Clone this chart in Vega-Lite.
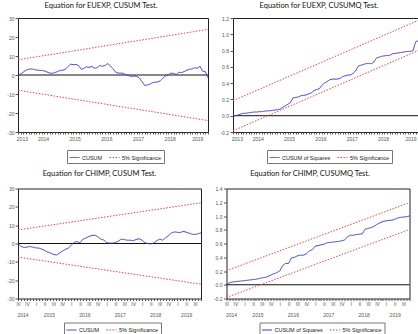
{
  "$schema": "https://vega.github.io/schema/vega-lite/v6.json",
  "background": "white",
  "padding": {"left": 0, "top": 1, "right": 0, "bottom": 0},
  "spacing": 5.5,
  "config": {
    "view": {"stroke": "#222", "strokeWidth": 1},
    "axis": {"grid": false, "labelFont": "Liberation Sans", "labelFontSize": 5, "labelColor": "#555", "tickColor": "#555", "domain": false, "labelFlush": false, "labelOverlap": false},
    "axisX": {"orient": "bottom"},
    "title": {"font": "Lato", "fontSize": 7.5, "fontWeight": "normal", "color": "#111", "frame": "group", "baseline": "bottom"},
    "legend": {"symbolType": "stroke", "symbolSize": 100, "symbolStrokeWidth": 1, "labelFont": "Liberation Sans", "labelFontSize": 5.5, "labelColor": "#222", "strokeColor": "#777", "padding": 2, "columnPadding": 4, "labelOffset": 2, "direction": "horizontal", "orient": "none"},
    "line": {"strokeWidth": 1}
  },
  "resolve": {"scale": {"color": "independent", "strokeDash": "independent"}},
  "datasets": {
    "zero": [{"v": 0}],
    "eu_cusum": [
      {"date": "2013-09-01", "v": 0}, {"date": "2013-10-01", "v": 0.5}, {"date": "2013-11-01", "v": 1.5}, {"date": "2013-12-01", "v": 2.5},
      {"date": "2014-01-01", "v": 3}, {"date": "2014-02-01", "v": 3.2}, {"date": "2014-03-01", "v": 3}, {"date": "2014-04-01", "v": 2.6},
      {"date": "2014-05-01", "v": 2.5}, {"date": "2014-06-01", "v": 2.4}, {"date": "2014-07-01", "v": 2.2}, {"date": "2014-08-01", "v": 1.6},
      {"date": "2014-09-01", "v": 1}, {"date": "2014-10-01", "v": 0.9}, {"date": "2014-11-01", "v": 1.3}, {"date": "2014-12-01", "v": 1.8},
      {"date": "2015-01-01", "v": 2.4}, {"date": "2015-02-01", "v": 2.5}, {"date": "2015-03-01", "v": 3}, {"date": "2015-04-01", "v": 4.5},
      {"date": "2015-05-01", "v": 5.7}, {"date": "2015-06-01", "v": 5.4}, {"date": "2015-07-01", "v": 5.6}, {"date": "2015-08-01", "v": 5},
      {"date": "2015-09-01", "v": 3}, {"date": "2015-10-01", "v": 3.5}, {"date": "2015-11-01", "v": 4.3}, {"date": "2015-12-01", "v": 4},
      {"date": "2016-01-01", "v": 4.5}, {"date": "2016-02-01", "v": 3.6}, {"date": "2016-03-01", "v": 3.8}, {"date": "2016-04-01", "v": 5},
      {"date": "2016-05-01", "v": 4.6}, {"date": "2016-06-01", "v": 5}, {"date": "2016-07-01", "v": 6}, {"date": "2016-08-01", "v": 4.8},
      {"date": "2016-09-01", "v": 3.2}, {"date": "2016-10-01", "v": 1.5}, {"date": "2016-11-01", "v": 1}, {"date": "2016-12-01", "v": 1},
      {"date": "2017-01-01", "v": 0.8}, {"date": "2017-02-01", "v": 0}, {"date": "2017-03-01", "v": -0.3}, {"date": "2017-04-01", "v": -0.8},
      {"date": "2017-05-01", "v": -0.5}, {"date": "2017-06-01", "v": -0.8}, {"date": "2017-07-01", "v": -1.5}, {"date": "2017-08-01", "v": -3.5},
      {"date": "2017-09-01", "v": -5.5}, {"date": "2017-10-01", "v": -5.2}, {"date": "2017-11-01", "v": -4.8}, {"date": "2017-12-01", "v": -4},
      {"date": "2018-01-01", "v": -3.8}, {"date": "2018-02-01", "v": -3.6}, {"date": "2018-03-01", "v": -3}, {"date": "2018-04-01", "v": -1.5},
      {"date": "2018-05-01", "v": -0.5}, {"date": "2018-06-01", "v": 0.2}, {"date": "2018-07-01", "v": 1}, {"date": "2018-08-01", "v": 0.8},
      {"date": "2018-09-01", "v": 0.3}, {"date": "2018-10-01", "v": 1.4}, {"date": "2018-11-01", "v": 1.3}, {"date": "2018-12-01", "v": 1.8},
      {"date": "2019-01-01", "v": 2.6}, {"date": "2019-02-01", "v": 3}, {"date": "2019-03-01", "v": 3.2}, {"date": "2019-04-01", "v": 3.8},
      {"date": "2019-05-01", "v": 3.6}, {"date": "2019-06-01", "v": 4.6}, {"date": "2019-07-01", "v": 2}, {"date": "2019-08-01", "v": 1.8},
      {"date": "2019-09-01", "v": -1.5}
    ],
    "eu_cusum_band": [
      {"date": "2013-09-01", "bound": "upper", "v": 8}, {"date": "2019-09-01", "bound": "upper", "v": 24},
      {"date": "2013-09-01", "bound": "lower", "v": -8}, {"date": "2019-09-01", "bound": "lower", "v": -24}
    ],
    "eu_cusumq": [
      {"date": "2013-09-01", "v": 0}, {"date": "2013-10-01", "v": 0}, {"date": "2013-11-01", "v": 0.01}, {"date": "2013-12-01", "v": 0.02},
      {"date": "2014-01-01", "v": 0.03}, {"date": "2014-02-01", "v": 0.03}, {"date": "2014-03-01", "v": 0.035}, {"date": "2014-04-01", "v": 0.04},
      {"date": "2014-05-01", "v": 0.045}, {"date": "2014-06-01", "v": 0.045}, {"date": "2014-07-01", "v": 0.05}, {"date": "2014-08-01", "v": 0.05},
      {"date": "2014-09-01", "v": 0.055}, {"date": "2014-10-01", "v": 0.06}, {"date": "2014-11-01", "v": 0.06}, {"date": "2014-12-01", "v": 0.065},
      {"date": "2015-01-01", "v": 0.07}, {"date": "2015-02-01", "v": 0.075}, {"date": "2015-03-01", "v": 0.08}, {"date": "2015-04-01", "v": 0.1},
      {"date": "2015-05-01", "v": 0.12}, {"date": "2015-06-01", "v": 0.14}, {"date": "2015-07-01", "v": 0.16}, {"date": "2015-08-01", "v": 0.22},
      {"date": "2015-09-01", "v": 0.225}, {"date": "2015-10-01", "v": 0.23}, {"date": "2015-11-01", "v": 0.245}, {"date": "2015-12-01", "v": 0.25},
      {"date": "2016-01-01", "v": 0.255}, {"date": "2016-02-01", "v": 0.27}, {"date": "2016-03-01", "v": 0.28}, {"date": "2016-04-01", "v": 0.31},
      {"date": "2016-05-01", "v": 0.32}, {"date": "2016-06-01", "v": 0.33}, {"date": "2016-07-01", "v": 0.37}, {"date": "2016-08-01", "v": 0.4},
      {"date": "2016-09-01", "v": 0.42}, {"date": "2016-10-01", "v": 0.44}, {"date": "2016-11-01", "v": 0.45}, {"date": "2016-12-01", "v": 0.45},
      {"date": "2017-01-01", "v": 0.45}, {"date": "2017-02-01", "v": 0.46}, {"date": "2017-03-01", "v": 0.48}, {"date": "2017-04-01", "v": 0.49},
      {"date": "2017-05-01", "v": 0.5}, {"date": "2017-06-01", "v": 0.5}, {"date": "2017-07-01", "v": 0.52}, {"date": "2017-08-01", "v": 0.55},
      {"date": "2017-09-01", "v": 0.61}, {"date": "2017-10-01", "v": 0.62}, {"date": "2017-11-01", "v": 0.63}, {"date": "2017-12-01", "v": 0.64},
      {"date": "2018-01-01", "v": 0.64}, {"date": "2018-02-01", "v": 0.64}, {"date": "2018-03-01", "v": 0.66}, {"date": "2018-04-01", "v": 0.71},
      {"date": "2018-05-01", "v": 0.72}, {"date": "2018-06-01", "v": 0.73}, {"date": "2018-07-01", "v": 0.735}, {"date": "2018-08-01", "v": 0.74},
      {"date": "2018-09-01", "v": 0.74}, {"date": "2018-10-01", "v": 0.76}, {"date": "2018-11-01", "v": 0.765}, {"date": "2018-12-01", "v": 0.77},
      {"date": "2019-01-01", "v": 0.775}, {"date": "2019-02-01", "v": 0.78}, {"date": "2019-03-01", "v": 0.785}, {"date": "2019-04-01", "v": 0.79},
      {"date": "2019-05-01", "v": 0.79}, {"date": "2019-06-01", "v": 0.8}, {"date": "2019-07-01", "v": 0.91}, {"date": "2019-08-01", "v": 0.92},
      {"date": "2019-09-01", "v": 1}
    ],
    "eu_cusumq_band": [
      {"date": "2013-09-01", "bound": "upper", "v": 0.185}, {"date": "2019-09-01", "bound": "upper", "v": 1.185},
      {"date": "2013-09-01", "bound": "lower", "v": -0.185}, {"date": "2019-09-01", "bound": "lower", "v": 0.815}
    ],
    "ch_cusum": [
      {"date": "2014-07-01", "v": 0}, {"date": "2014-08-01", "v": -1.5}, {"date": "2014-09-01", "v": -2.2}, {"date": "2014-10-01", "v": -2},
      {"date": "2014-11-01", "v": -1.6}, {"date": "2014-12-01", "v": -2},
      {"date": "2015-01-01", "v": -2.4}, {"date": "2015-02-01", "v": -2.5}, {"date": "2015-03-01", "v": -3}, {"date": "2015-04-01", "v": -3.8},
      {"date": "2015-05-01", "v": -4.6}, {"date": "2015-06-01", "v": -5.2}, {"date": "2015-07-01", "v": -5.9}, {"date": "2015-08-01", "v": -6.3},
      {"date": "2015-09-01", "v": -5.3}, {"date": "2015-10-01", "v": -4.2}, {"date": "2015-11-01", "v": -3.2}, {"date": "2015-12-01", "v": -2.6},
      {"date": "2016-01-01", "v": -1}, {"date": "2016-02-01", "v": 0.7}, {"date": "2016-03-01", "v": 1}, {"date": "2016-04-01", "v": 0.4},
      {"date": "2016-05-01", "v": 2.4}, {"date": "2016-06-01", "v": 3}, {"date": "2016-07-01", "v": 3.8}, {"date": "2016-08-01", "v": 4.4},
      {"date": "2016-09-01", "v": 4.5}, {"date": "2016-10-01", "v": 3.7}, {"date": "2016-11-01", "v": 2.4}, {"date": "2016-12-01", "v": 1.9},
      {"date": "2017-01-01", "v": 0.5}, {"date": "2017-02-01", "v": 0.2}, {"date": "2017-03-01", "v": 0.2}, {"date": "2017-04-01", "v": 0.5},
      {"date": "2017-05-01", "v": 1.3}, {"date": "2017-06-01", "v": 2.4}, {"date": "2017-07-01", "v": 2.1}, {"date": "2017-08-01", "v": 1.8},
      {"date": "2017-09-01", "v": 1.8}, {"date": "2017-10-01", "v": 1.5}, {"date": "2017-11-01", "v": 2.2}, {"date": "2017-12-01", "v": 2.6},
      {"date": "2018-01-01", "v": 1.8}, {"date": "2018-02-01", "v": 0.4}, {"date": "2018-03-01", "v": 0}, {"date": "2018-04-01", "v": -0.2},
      {"date": "2018-05-01", "v": 0.3}, {"date": "2018-06-01", "v": 1.5}, {"date": "2018-07-01", "v": 2.4}, {"date": "2018-08-01", "v": 1.8},
      {"date": "2018-09-01", "v": 3.2}, {"date": "2018-10-01", "v": 4.3}, {"date": "2018-11-01", "v": 5.8}, {"date": "2018-12-01", "v": 6.3},
      {"date": "2019-01-01", "v": 6.1}, {"date": "2019-02-01", "v": 6}, {"date": "2019-03-01", "v": 6.6}, {"date": "2019-04-01", "v": 6.2},
      {"date": "2019-05-01", "v": 5.6}, {"date": "2019-06-01", "v": 5.1}, {"date": "2019-07-01", "v": 4.9}, {"date": "2019-08-01", "v": 5.3},
      {"date": "2019-09-01", "v": 5.8}
    ],
    "ch_cusum_band": [
      {"date": "2014-07-01", "bound": "upper", "v": 7.4}, {"date": "2019-09-01", "bound": "upper", "v": 22.2},
      {"date": "2014-07-01", "bound": "lower", "v": -7.4}, {"date": "2019-09-01", "bound": "lower", "v": -22.2}
    ],
    "ch_cusumq": [
      {"date": "2014-07-01", "v": 0}, {"date": "2014-08-01", "v": 0.03}, {"date": "2014-09-01", "v": 0.04}, {"date": "2014-10-01", "v": 0.045},
      {"date": "2014-11-01", "v": 0.05}, {"date": "2014-12-01", "v": 0.055},
      {"date": "2015-01-01", "v": 0.06}, {"date": "2015-02-01", "v": 0.065}, {"date": "2015-03-01", "v": 0.07}, {"date": "2015-04-01", "v": 0.075},
      {"date": "2015-05-01", "v": 0.08}, {"date": "2015-06-01", "v": 0.09}, {"date": "2015-07-01", "v": 0.1}, {"date": "2015-08-01", "v": 0.105},
      {"date": "2015-09-01", "v": 0.12}, {"date": "2015-10-01", "v": 0.14}, {"date": "2015-11-01", "v": 0.16}, {"date": "2015-12-01", "v": 0.175},
      {"date": "2016-01-01", "v": 0.2}, {"date": "2016-02-01", "v": 0.28}, {"date": "2016-03-01", "v": 0.31}, {"date": "2016-04-01", "v": 0.31},
      {"date": "2016-05-01", "v": 0.39}, {"date": "2016-06-01", "v": 0.4}, {"date": "2016-07-01", "v": 0.42}, {"date": "2016-08-01", "v": 0.43},
      {"date": "2016-09-01", "v": 0.43}, {"date": "2016-10-01", "v": 0.45}, {"date": "2016-11-01", "v": 0.49}, {"date": "2016-12-01", "v": 0.51},
      {"date": "2017-01-01", "v": 0.56}, {"date": "2017-02-01", "v": 0.57}, {"date": "2017-03-01", "v": 0.58}, {"date": "2017-04-01", "v": 0.59},
      {"date": "2017-05-01", "v": 0.61}, {"date": "2017-06-01", "v": 0.615}, {"date": "2017-07-01", "v": 0.62}, {"date": "2017-08-01", "v": 0.625},
      {"date": "2017-09-01", "v": 0.63}, {"date": "2017-10-01", "v": 0.64}, {"date": "2017-11-01", "v": 0.65}, {"date": "2017-12-01", "v": 0.7},
      {"date": "2018-01-01", "v": 0.72}, {"date": "2018-02-01", "v": 0.72}, {"date": "2018-03-01", "v": 0.73}, {"date": "2018-04-01", "v": 0.735},
      {"date": "2018-05-01", "v": 0.74}, {"date": "2018-06-01", "v": 0.81}, {"date": "2018-07-01", "v": 0.82}, {"date": "2018-08-01", "v": 0.83},
      {"date": "2018-09-01", "v": 0.85}, {"date": "2018-10-01", "v": 0.88}, {"date": "2018-11-01", "v": 0.9}, {"date": "2018-12-01", "v": 0.92},
      {"date": "2019-01-01", "v": 0.93}, {"date": "2019-02-01", "v": 0.935}, {"date": "2019-03-01", "v": 0.94}, {"date": "2019-04-01", "v": 0.95},
      {"date": "2019-05-01", "v": 0.97}, {"date": "2019-06-01", "v": 0.98}, {"date": "2019-07-01", "v": 0.985}, {"date": "2019-08-01", "v": 0.99},
      {"date": "2019-09-01", "v": 1}
    ],
    "ch_cusumq_band": [
      {"date": "2014-07-01", "bound": "upper", "v": 0.205}, {"date": "2019-09-01", "bound": "upper", "v": 1.195},
      {"date": "2014-07-01", "bound": "lower", "v": -0.185}, {"date": "2019-09-01", "bound": "lower", "v": 0.805}
    ]
  },
  "vconcat": [
    {
      "spacing": 25,
      "bounds": "flush",
      "resolve": {"scale": {"color": "independent", "strokeDash": "independent"}},
      "hconcat": [
        {
          "width": 190, "height": 114,
          "title": {"text": "Equation for EUEXP, CUSUM Test.", "dx": -12, "offset": 6.5},
          "encoding": {
            "y": {"field": "v", "type": "quantitative", "title": null,
              "scale": {"domain": [-30, 30], "nice": false, "zero": false},
              "axis": {"values": [-30, -20, -10, 0, 10, 20, 30], "labelExpr": "'' + datum.value", "tickSize": 3, "labelPadding": 1, "minExtent": 10, "maxExtent": 10}}
          },
          "layer": [
            {"data": {"name": "zero"}, "mark": {"type": "rule", "color": "#111", "strokeWidth": 1}, "encoding": {}},
            {
              "data": {"name": "eu_cusum_band"}, "transform": [{"filter": "datum.bound == 'upper'"}], "mark": "line",
              "encoding": {
                "x": {"field": "date", "type": "temporal", "title": null,
                  "scale": {"type": "utc", "domain": [{"year": 2013, "month": 9, "date": 1, "utc": true}, {"year": 2019, "month": 9, "date": 1, "utc": true}]},
                  "axis": {"orient": "bottom", "tickCount": {"interval": "month", "step": 1}, "labels": false, "tickSize": 2}},
                "color": {"datum": "5% Significance", "type": "nominal", "scale": {"domain": ["CUSUM", "5% Significance"], "range": ["#3b3bcf", "#e04848"]}, "legend": {"title": null, "legendX": 49, "legendY": 132}},
                "strokeDash": {"datum": "5% Significance", "type": "nominal", "scale": {"domain": ["CUSUM", "5% Significance"], "range": [[1, 0], [1.5, 1.5]]}, "legend": {"title": null, "legendX": 49, "legendY": 132}}
              }
            },
            {
              "data": {"name": "eu_cusum_band"}, "transform": [{"filter": "datum.bound == 'lower'"}], "mark": "line",
              "encoding": {
                "x": {"field": "date", "type": "temporal", "title": null,
                  "scale": {"type": "utc", "domain": [{"year": 2013, "month": 9, "date": 1, "utc": true}, {"year": 2019, "month": 9, "date": 1, "utc": true}]},
                  "axis": {"orient": "bottom", "values": [{"year": 2013, "month": 10, "date": 16, "utc": true}, {"year": 2014, "month": 6, "date": 16, "utc": true}, {"year": 2015, "month": 6, "date": 16, "utc": true}, {"year": 2016, "month": 6, "date": 16, "utc": true}, {"year": 2017, "month": 6, "date": 16, "utc": true}, {"year": 2018, "month": 6, "date": 16, "utc": true}, {"year": 2019, "month": 5, "date": 1, "utc": true}], "format": "%Y", "ticks": false, "labelPadding": 4}},
                "color": {"datum": "5% Significance", "type": "nominal", "scale": {"domain": ["CUSUM", "5% Significance"], "range": ["#3b3bcf", "#e04848"]}, "legend": {"title": null, "legendX": 49, "legendY": 132}},
                "strokeDash": {"datum": "5% Significance", "type": "nominal", "scale": {"domain": ["CUSUM", "5% Significance"], "range": [[1, 0], [1.5, 1.5]]}, "legend": {"title": null, "legendX": 49, "legendY": 132}}
              }
            },
            {
              "data": {"name": "eu_cusum"}, "mark": "line",
              "encoding": {
                "x": {"field": "date", "type": "temporal", "title": null,
                  "scale": {"type": "utc", "domain": [{"year": 2013, "month": 9, "date": 1, "utc": true}, {"year": 2019, "month": 9, "date": 1, "utc": true}]},
                  "axis": null},
                "color": {"datum": "CUSUM", "type": "nominal", "scale": {"domain": ["CUSUM", "5% Significance"], "range": ["#3b3bcf", "#e04848"]}, "legend": {"title": null, "legendX": 49, "legendY": 132}},
                "strokeDash": {"datum": "CUSUM", "type": "nominal", "scale": {"domain": ["CUSUM", "5% Significance"], "range": [[1, 0], [1.5, 1.5]]}, "legend": {"title": null, "legendX": 49, "legendY": 132}}
              }
            }
          ],
          "resolve": {"axis": {"x": "independent"}}
        },
        {
          "width": 188, "height": 114,
          "title": {"text": "Equation for EUEXP, CUSUMQ Test.", "dx": -8, "offset": 6.5},
          "encoding": {
            "y": {"field": "v", "type": "quantitative", "title": null,
              "scale": {"domain": [-0.2, 1.2], "nice": false, "zero": false},
              "axis": {"values": [-0.2, 0, 0.2, 0.4, 0.6, 0.8, 1.0, 1.2], "labelExpr": "replace(format(datum.value, '.1f'), '\u2212', '-')", "tickSize": 3, "labelPadding": 1.5, "minExtent": 16, "maxExtent": 16}}
          },
          "layer": [
            {"data": {"name": "zero"}, "mark": {"type": "rule", "color": "#111", "strokeWidth": 1}, "encoding": {}},
            {
              "data": {"name": "eu_cusumq_band"}, "transform": [{"filter": "datum.bound == 'upper'"}], "mark": "line",
              "encoding": {
                "x": {"field": "date", "type": "temporal", "title": null,
                  "scale": {"type": "utc", "domain": [{"year": 2013, "month": 9, "date": 1, "utc": true}, {"year": 2019, "month": 9, "date": 1, "utc": true}]},
                  "axis": {"orient": "bottom", "tickCount": {"interval": "month", "step": 1}, "labels": false, "tickSize": 2}},
                "color": {"datum": "5% Significance", "type": "nominal", "scale": {"domain": ["CUSUM of Squares", "5% Significance"], "range": ["#3b3bcf", "#e04848"]}, "legend": {"title": null, "legendX": 34, "legendY": 132}},
                "strokeDash": {"datum": "5% Significance", "type": "nominal", "scale": {"domain": ["CUSUM of Squares", "5% Significance"], "range": [[1, 0], [1.5, 1.5]]}, "legend": {"title": null, "legendX": 34, "legendY": 132}}
              }
            },
            {
              "data": {"name": "eu_cusumq_band"}, "transform": [{"filter": "datum.bound == 'lower'"}], "mark": "line",
              "encoding": {
                "x": {"field": "date", "type": "temporal", "title": null,
                  "scale": {"type": "utc", "domain": [{"year": 2013, "month": 9, "date": 1, "utc": true}, {"year": 2019, "month": 9, "date": 1, "utc": true}]},
                  "axis": {"orient": "bottom", "values": [{"year": 2013, "month": 10, "date": 16, "utc": true}, {"year": 2014, "month": 6, "date": 16, "utc": true}, {"year": 2015, "month": 6, "date": 16, "utc": true}, {"year": 2016, "month": 6, "date": 16, "utc": true}, {"year": 2017, "month": 6, "date": 16, "utc": true}, {"year": 2018, "month": 6, "date": 16, "utc": true}, {"year": 2019, "month": 5, "date": 1, "utc": true}], "format": "%Y", "ticks": false, "labelPadding": 4}},
                "color": {"datum": "5% Significance", "type": "nominal", "scale": {"domain": ["CUSUM of Squares", "5% Significance"], "range": ["#3b3bcf", "#e04848"]}, "legend": {"title": null, "legendX": 34, "legendY": 132}},
                "strokeDash": {"datum": "5% Significance", "type": "nominal", "scale": {"domain": ["CUSUM of Squares", "5% Significance"], "range": [[1, 0], [1.5, 1.5]]}, "legend": {"title": null, "legendX": 34, "legendY": 132}}
              }
            },
            {
              "data": {"name": "eu_cusumq"}, "mark": "line",
              "encoding": {
                "x": {"field": "date", "type": "temporal", "title": null,
                  "scale": {"type": "utc", "domain": [{"year": 2013, "month": 9, "date": 1, "utc": true}, {"year": 2019, "month": 9, "date": 1, "utc": true}]},
                  "axis": null},
                "color": {"datum": "CUSUM of Squares", "type": "nominal", "scale": {"domain": ["CUSUM of Squares", "5% Significance"], "range": ["#3b3bcf", "#e04848"]}, "legend": {"title": null, "legendX": 34, "legendY": 132}},
                "strokeDash": {"datum": "CUSUM of Squares", "type": "nominal", "scale": {"domain": ["CUSUM of Squares", "5% Significance"], "range": [[1, 0], [1.5, 1.5]]}, "legend": {"title": null, "legendX": 34, "legendY": 132}}
              }
            }
          ],
          "resolve": {"axis": {"x": "independent"}}
        }
      ]
    },
    {
      "spacing": 25.5,
      "bounds": "flush",
      "resolve": {"scale": {"color": "independent", "strokeDash": "independent"}},
      "hconcat": [
        {
          "width": 183, "height": 110,
          "title": {"text": "Equation for CHIMP, CUSUM Test.", "dx": -10, "offset": 9},
          "encoding": {
            "y": {"field": "v", "type": "quantitative", "title": null,
              "scale": {"domain": [-30, 30], "nice": false, "zero": false},
              "axis": {"values": [-30, -20, -10, 0, 10, 20, 30], "labelExpr": "'' + datum.value", "tickSize": 3, "labelPadding": 1, "minExtent": 17.5, "maxExtent": 17.5}}
          },
          "layer": [
            {"data": {"name": "zero"}, "mark": {"type": "rule", "color": "#111", "strokeWidth": 1}, "encoding": {}},
            {
              "data": {"name": "ch_cusum_band"}, "transform": [{"filter": "datum.bound == 'upper'"}], "mark": "line",
              "encoding": {
                "x": {"field": "date", "type": "temporal", "title": null,
                  "scale": {"type": "utc", "domain": [{"year": 2014, "month": 7, "date": 1, "utc": true}, {"year": 2019, "month": 9, "date": 1, "utc": true}]},
                  "axis": {"orient": "bottom", "tickCount": {"interval": "month", "step": 1}, "labels": false, "tickSize": 2}},
                "color": {"datum": "5% Significance", "type": "nominal", "scale": {"domain": ["CUSUM", "5% Significance"], "range": ["#3b3bcf", "#e04848"]}, "legend": {"title": null, "legendX": 46, "legendY": 134}},
                "strokeDash": {"datum": "5% Significance", "type": "nominal", "scale": {"domain": ["CUSUM", "5% Significance"], "range": [[1, 0], [1.5, 1.5]]}, "legend": {"title": null, "legendX": 46, "legendY": 134}}
              }
            },
            {
              "data": {"name": "ch_cusum_band"}, "transform": [{"filter": "datum.bound == 'lower'"}], "mark": "line",
              "encoding": {
                "x": {"field": "date", "type": "temporal", "title": null,
                  "scale": {"type": "utc", "domain": [{"year": 2014, "month": 7, "date": 1, "utc": true}, {"year": 2019, "month": 9, "date": 1, "utc": true}]},
                  "axis": {"orient": "bottom", "tickCount": {"interval": "month", "step": 3}, "labelExpr": "['I','II','III','IV'][floor(utcmonth(datum.value) / 3)]", "ticks": false, "labelPadding": 3}},
                "color": {"datum": "5% Significance", "type": "nominal", "scale": {"domain": ["CUSUM", "5% Significance"], "range": ["#3b3bcf", "#e04848"]}, "legend": {"title": null, "legendX": 46, "legendY": 134}},
                "strokeDash": {"datum": "5% Significance", "type": "nominal", "scale": {"domain": ["CUSUM", "5% Significance"], "range": [[1, 0], [1.5, 1.5]]}, "legend": {"title": null, "legendX": 46, "legendY": 134}}
              }
            },
            {
              "data": {"name": "ch_cusum"}, "mark": "line",
              "encoding": {
                "x": {"field": "date", "type": "temporal", "title": null,
                  "scale": {"type": "utc", "domain": [{"year": 2014, "month": 7, "date": 1, "utc": true}, {"year": 2019, "month": 9, "date": 1, "utc": true}]},
                  "axis": {"orient": "bottom", "values": [{"year": 2014, "month": 8, "date": 16, "utc": true}, {"year": 2015, "month": 5, "date": 16, "utc": true}, {"year": 2016, "month": 5, "date": 16, "utc": true}, {"year": 2017, "month": 5, "date": 16, "utc": true}, {"year": 2018, "month": 5, "date": 16, "utc": true}, {"year": 2019, "month": 4, "date": 1, "utc": true}], "format": "%Y", "ticks": false, "labelPadding": 13.5}},
                "color": {"datum": "CUSUM", "type": "nominal", "scale": {"domain": ["CUSUM", "5% Significance"], "range": ["#3b3bcf", "#e04848"]}, "legend": {"title": null, "legendX": 46, "legendY": 134}},
                "strokeDash": {"datum": "CUSUM", "type": "nominal", "scale": {"domain": ["CUSUM", "5% Significance"], "range": [[1, 0], [1.5, 1.5]]}, "legend": {"title": null, "legendX": 46, "legendY": 134}}
              }
            }
          ],
          "resolve": {"axis": {"x": "independent"}}
        },
        {
          "width": 183, "height": 110,
          "title": {"text": "Equation for CHIMP, CUSUMQ Test.", "dx": -8, "offset": 9},
          "encoding": {
            "y": {"field": "v", "type": "quantitative", "title": null,
              "scale": {"domain": [-0.2, 1.4], "nice": false, "zero": false},
              "axis": {"values": [-0.2, 0, 0.2, 0.4, 0.6, 0.8, 1.0, 1.2, 1.4], "labelExpr": "replace(format(datum.value, '.1f'), '\u2212', '-')", "tickSize": 3, "labelPadding": 1.5, "minExtent": 15, "maxExtent": 15}}
          },
          "layer": [
            {"data": {"name": "zero"}, "mark": {"type": "rule", "color": "#111", "strokeWidth": 1}, "encoding": {}},
            {
              "data": {"name": "ch_cusumq_band"}, "transform": [{"filter": "datum.bound == 'upper'"}], "mark": "line",
              "encoding": {
                "x": {"field": "date", "type": "temporal", "title": null,
                  "scale": {"type": "utc", "domain": [{"year": 2014, "month": 7, "date": 1, "utc": true}, {"year": 2019, "month": 9, "date": 1, "utc": true}]},
                  "axis": {"orient": "bottom", "tickCount": {"interval": "month", "step": 1}, "labels": false, "tickSize": 2}},
                "color": {"datum": "5% Significance", "type": "nominal", "scale": {"domain": ["CUSUM of Squares", "5% Significance"], "range": ["#3b3bcf", "#e04848"]}, "legend": {"title": null, "legendX": 33, "legendY": 134}},
                "strokeDash": {"datum": "5% Significance", "type": "nominal", "scale": {"domain": ["CUSUM of Squares", "5% Significance"], "range": [[1, 0], [1.5, 1.5]]}, "legend": {"title": null, "legendX": 33, "legendY": 134}}
              }
            },
            {
              "data": {"name": "ch_cusumq_band"}, "transform": [{"filter": "datum.bound == 'lower'"}], "mark": "line",
              "encoding": {
                "x": {"field": "date", "type": "temporal", "title": null,
                  "scale": {"type": "utc", "domain": [{"year": 2014, "month": 7, "date": 1, "utc": true}, {"year": 2019, "month": 9, "date": 1, "utc": true}]},
                  "axis": {"orient": "bottom", "tickCount": {"interval": "month", "step": 3}, "labelExpr": "['I','II','III','IV'][floor(utcmonth(datum.value) / 3)]", "ticks": false, "labelPadding": 3}},
                "color": {"datum": "5% Significance", "type": "nominal", "scale": {"domain": ["CUSUM of Squares", "5% Significance"], "range": ["#3b3bcf", "#e04848"]}, "legend": {"title": null, "legendX": 33, "legendY": 134}},
                "strokeDash": {"datum": "5% Significance", "type": "nominal", "scale": {"domain": ["CUSUM of Squares", "5% Significance"], "range": [[1, 0], [1.5, 1.5]]}, "legend": {"title": null, "legendX": 33, "legendY": 134}}
              }
            },
            {
              "data": {"name": "ch_cusumq"}, "mark": "line",
              "encoding": {
                "x": {"field": "date", "type": "temporal", "title": null,
                  "scale": {"type": "utc", "domain": [{"year": 2014, "month": 7, "date": 1, "utc": true}, {"year": 2019, "month": 9, "date": 1, "utc": true}]},
                  "axis": {"orient": "bottom", "values": [{"year": 2014, "month": 8, "date": 16, "utc": true}, {"year": 2015, "month": 5, "date": 16, "utc": true}, {"year": 2016, "month": 5, "date": 16, "utc": true}, {"year": 2017, "month": 5, "date": 16, "utc": true}, {"year": 2018, "month": 5, "date": 16, "utc": true}, {"year": 2019, "month": 4, "date": 1, "utc": true}], "format": "%Y", "ticks": false, "labelPadding": 13.5}},
                "color": {"datum": "CUSUM of Squares", "type": "nominal", "scale": {"domain": ["CUSUM of Squares", "5% Significance"], "range": ["#3b3bcf", "#e04848"]}, "legend": {"title": null, "legendX": 33, "legendY": 134}},
                "strokeDash": {"datum": "CUSUM of Squares", "type": "nominal", "scale": {"domain": ["CUSUM of Squares", "5% Significance"], "range": [[1, 0], [1.5, 1.5]]}, "legend": {"title": null, "legendX": 33, "legendY": 134}}
              }
            }
          ],
          "resolve": {"axis": {"x": "independent"}}
        }
      ]
    }
  ]
}
